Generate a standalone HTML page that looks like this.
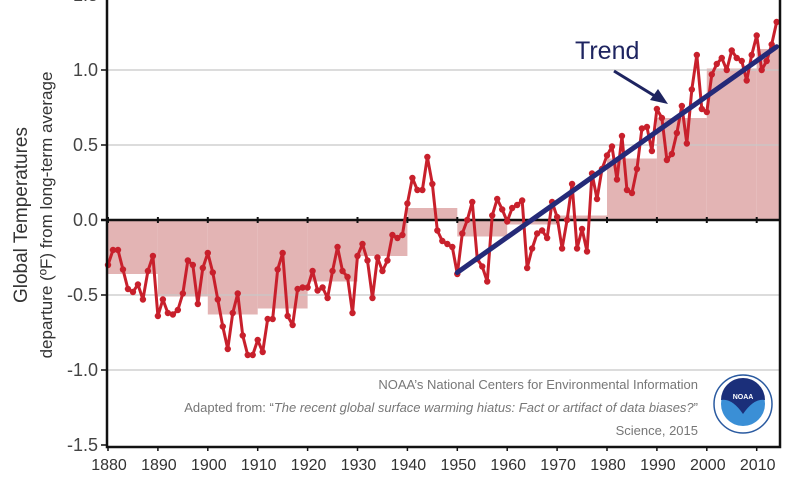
<!DOCTYPE html>
<html><head><meta charset="utf-8"><style>
body{margin:0;background:#fff;width:800px;height:480px;overflow:hidden}
svg{display:block;font-family:"Liberation Sans",Arial,sans-serif}
</style></head><body>
<svg id="chart" width="800" height="480" viewBox="0 0 800 480">
<g id="bars"></g>
<g id="grid"></g>
<g id="yticks"></g>
<g id="xticks"></g>
<g id="series"></g>
<g id="trend"></g>
<text x="575" y="59" font-size="25" fill="#1e2460">Trend</text>
<line x1="614" y1="71" x2="658" y2="98" stroke="#1e2460" stroke-width="3"/>
<polygon points="668,104 650,100 658,89" fill="#1e2460"/>
<g>
<text transform="translate(27,215) rotate(-90)" text-anchor="middle" font-size="19" fill="#333">Global Temperatures</text>
<text transform="translate(52,215) rotate(-90)" text-anchor="middle" font-size="17" fill="#333">departure (ºF) from long-term average</text>
</g>
<g font-size="13" fill="#777" text-anchor="end">
<text x="698" y="389">NOAA’s National Centers for Environmental Information</text>
<text x="698" y="412">Adapted from: “<tspan font-style="italic">The recent global surface warming hiatus: Fact or artifact of data biases?</tspan>”</text>
<text x="698" y="435">Science, 2015</text>
</g>
<g>
<circle cx="743" cy="404" r="29" fill="#fff" stroke="#2a5aa0" stroke-width="1.5"/>
<circle cx="743" cy="404" r="22" fill="#3a8fd6"/>
<path d="M721,400 A22,22 0 0 1 765,400 Q754,398 743,414 Q732,398 721,400Z" fill="#1b2f7a"/>
<text x="743" y="399" font-size="7" fill="#fff" text-anchor="middle" font-weight="bold">NOAA</text>
</g>
<rect x="107" y="-5" width="673" height="452" fill="none" stroke="#111" stroke-width="2.5"/>
</svg>
<script>
const years=[];for(let y=1880;y<=2014;y++)years.push(y);
const anomalies=[-0.30,-0.20,-0.20,-0.33,-0.46,-0.48,-0.43,-0.53,-0.34,-0.24,
-0.64,-0.53,-0.62,-0.63,-0.60,-0.49,-0.27,-0.30,-0.56,-0.32,
-0.22,-0.35,-0.53,-0.71,-0.86,-0.62,-0.49,-0.77,-0.90,-0.90,
-0.80,-0.88,-0.66,-0.66,-0.33,-0.22,-0.64,-0.70,-0.46,-0.45,
-0.45,-0.34,-0.47,-0.45,-0.52,-0.34,-0.18,-0.34,-0.38,-0.62,
-0.24,-0.16,-0.27,-0.52,-0.25,-0.34,-0.27,-0.10,-0.12,-0.10,
0.11,0.28,0.20,0.20,0.42,0.24,-0.07,-0.14,-0.16,-0.18,
-0.36,-0.09,0.00,0.12,-0.26,-0.31,-0.41,0.03,0.14,0.07,
-0.01,0.08,0.10,0.13,-0.32,-0.19,-0.09,-0.07,-0.12,0.12,
0.02,-0.19,0.00,0.24,-0.19,-0.06,-0.21,0.31,0.14,0.34,
0.43,0.49,0.27,0.56,0.20,0.18,0.34,0.61,0.62,0.46,
0.74,0.68,0.40,0.44,0.58,0.76,0.51,0.87,1.10,0.74,
0.72,0.97,1.04,1.08,1.00,1.13,1.08,1.06,0.93,1.10,
1.23,1.00,1.06,1.17,1.32];
const decadeStarts=[1880,1890,1900,1910,1920,1930,1940,1950,1960,1970,1980,1990,2000,2010];
const decadeMeans=[-0.36,-0.51,-0.63,-0.59,-0.41,-0.24,0.08,-0.11,-0.03,0.03,0.41,0.68,1.01,1.14];
const trendYears=[1950,2014];
const trendValues=[-0.35,1.155];
const yTicks=[-1.5,-1.0,-0.5,0.0,0.5,1.0,1.5];
const yTickLabels=["-1.5","-1.0","-0.5","0.0","0.5","1.0","1.5"];
const xTicks=[1880,1890,1900,1910,1920,1930,1940,1950,1960,1970,1980,1990,2000,2010];

const X=yr=>108+(yr-1880)*4.99;
const Y=v=>220-v*150;
const NS='http://www.w3.org/2000/svg';
function mk(tag,attrs,parent){const e=document.createElementNS(NS,tag);for(const k in attrs)e.setAttribute(k,attrs[k]);parent.appendChild(e);return e;}
const gb=document.getElementById('bars'),gg=document.getElementById('grid'),gy=document.getElementById('yticks'),gx=document.getElementById('xticks'),gs=document.getElementById('series'),gt=document.getElementById('trend');
decadeStarts.forEach((d,i)=>{
  const x0=X(d),x1=Math.min(X(d+10),780),v=decadeMeans[i];
  const r=mk('rect',{x:x0,y:Math.min(Y(v),Y(0)),width:x1-x0,height:Math.abs(Y(v)-Y(0)),fill:'#e3b4b4'},gb);
  
  
});
yTicks.forEach((t,i)=>{
  if(t!==0&&t!==-1.5){const l=mk('line',{x1:107,x2:780,y1:Y(t),y2:Y(t),stroke:'#c8c8c8','stroke-width':1.2},gg);
  
  }
  mk('line',{x1:101,x2:107,y1:Y(t),y2:Y(t),stroke:'#111','stroke-width':1.5},gy);
  const tx=mk('text',{x:98,y:Y(t)+6,'font-size':18,fill:'#444','text-anchor':'end'},gy);
  tx.textContent=yTickLabels[i];
  
  
});
const zl=mk('line',{x1:101,x2:780,y1:Y(0),y2:Y(0),stroke:'#111','stroke-width':2.5},gg);


xTicks.forEach(t=>{
  mk('line',{x1:X(t),x2:X(t),y1:Y(0)-3,y2:Y(0)+3,stroke:'#111','stroke-width':2},gx);
  mk('line',{x1:X(t),x2:X(t),y1:447,y2:451,stroke:'#111','stroke-width':1.5},gx);
  const tx=mk('text',{x:X(t)+1,y:470,'font-size':16,fill:'#333','text-anchor':'middle'},gx);
  tx.textContent=t;
  
  
});
const pts=years.map((y,i)=>X(y)+','+Y(anomalies[i])).join(' ');
const pl=mk('polyline',{points:pts,fill:'none',stroke:'#c8202c','stroke-width':3,'stroke-linejoin':'round'},gs);


years.forEach((y,i)=>{
  const c=mk('circle',{cx:X(y),cy:Y(anomalies[i]),r:3.2,fill:'#c8202c'},gs);
  
  
});
const tl=mk('line',{x1:X(trendYears[0]),y1:Y(trendValues[0]),x2:X(trendYears[1]),y2:Y(trendValues[1]),stroke:'#252a78','stroke-width':5,'stroke-linecap':'round'},gt);


</script>
</body></html>
